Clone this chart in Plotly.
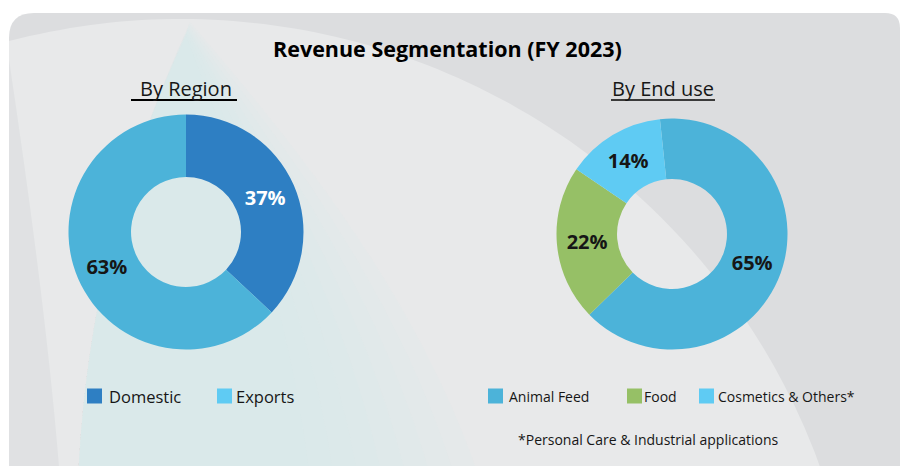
import math
import plotly.graph_objects as go

# ---- data ----
region_labels = ["Domestic", "Exports"]
region_values = [37, 63]

enduse_labels = ["Animal Feed", "Food", "Cosmetics & Others*"]
enduse_values = [65, 22, 14]

title_text = "Revenue Segmentation (FY 2023)"
region_title = "By Region"
enduse_title = "By End use"
footnote = "*Personal Care & Industrial applications"

# ---- styling ----
W, H = 903, 466
FONT = "Open Sans"
INK = "#161616"
region_colors = ["#2e7fc3", "#4cb3d9"]
region_swatches = ["#2e7fc3", "#5fcbf3"]
region_text_colors = ["#ffffff", INK]
enduse_colors = ["#4cb3d9", "#96c066", "#5fcbf3"]
enduse_swatches = ["#4cb3d9", "#96c066", "#5fcbf3"]
enduse_text_colors = [INK, INK, INK]


def px_domain(cx, cy, r):
    return dict(x=[(cx - r) / W, (cx + r) / W],
                y=[1 - (cy + r) / H, 1 - (cy - r) / H])


fig = go.Figure()

fig.add_trace(go.Pie(
    labels=region_labels, values=region_values,
    marker=dict(colors=region_colors, line=dict(width=0)),
    hole=0.468, sort=False, direction="clockwise", rotation=0,
    texttemplate="%{value}%", textposition="inside",
    insidetextorientation="horizontal",
    textfont=dict(family=FONT, size=20, color=region_text_colors, weight=700),
    domain=px_domain(186, 232, 117.5),
    hoverinfo="skip", showlegend=False,
))

fig.add_trace(go.Pie(
    labels=enduse_labels, values=enduse_values,
    marker=dict(colors=enduse_colors, line=dict(width=0)),
    hole=0.476, sort=False, direction="clockwise", rotation=-6,
    texttemplate="%{value}%", textposition="inside",
    insidetextorientation="horizontal",
    textfont=dict(family=FONT, size=20, color=enduse_text_colors, weight=700),
    domain=px_domain(672, 234, 115.5),
    hoverinfo="skip", showlegend=False,
))

shapes = []

# panel with rounded top corners
x0, y0, x1, y1 = 9, 13, 900, 480
rl, rr = 25, 15
panel = (f"M {x0},{y1} L {x0},{y0 + rl} Q {x0},{y0} {x0 + rl},{y0} "
         f"L {x1 - rr},{y0} Q {x1},{y0} {x1},{y0 + rr} L {x1},{y1} Z")
shapes.append(dict(type="path", path=panel, fillcolor="#dcdddf",
                   line=dict(width=0), layer="below"))

# large light sweep across the panel
cx, cy, R = 181, 699, 680
pts = []
xe = cx + math.sqrt(R ** 2 - (cy - y1) ** 2)
n = 80
for i in range(n + 1):
    xx = x0 + (xe - x0) * i / n
    yy = cy - math.sqrt(max(R ** 2 - (xx - cx) ** 2, 0))
    pts.append((xx, max(yy, y0 + 2)))
sweep = "M " + " L ".join(f"{a:.1f},{b:.1f}" for a, b in pts)
sweep += f" L {xe:.1f},{y1} L {x0},{y1} Z"
shapes.append(dict(type="path", path=sweep, fillcolor="#e8e9ea",
                   line=dict(width=0), layer="below"))

# slightly darker strip along the left edge
shapes.append(dict(type="path",
                   path=f"M {x0},60 C 30,200 50,350 60,{y1} L {x0},{y1} Z",
                   fillcolor="rgba(200,202,206,0.25)", line=dict(width=0),
                   layer="below"))

# soft teal glow on the left, fading towards the right (stacked thin layers)
n_layers = 8
for k in range(n_layers):
    t = k / (n_layers - 1)
    rx_end = 480 - 170 * t
    top_x = 190 - 4 * t
    top_y = 22 + 14 * t
    ctrl1 = 300 - 70 * t
    ctrl2 = 420 - 130 * t
    p = (f"M 78,480 C 86,300 128,160 {top_x:.1f},{top_y:.1f} "
         f"C {ctrl1:.1f},150 {ctrl2:.1f},300 {rx_end:.1f},480 Z")
    shapes.append(dict(type="path", path=p, fillcolor="rgba(212,234,236,0.15)",
                       line=dict(width=0), layer="below"))

annotations = []

annotations.append(dict(text=f"<b>{title_text}</b>", x=447, y=48,
                        xref="x", yref="y", showarrow=False,
                        font=dict(family=FONT, size=21.5, color="#000000")))

for txt, cxp, x_a, x_b, col in [(region_title, 186, 131, 237, "#000000"),
                                (enduse_title, 663, 611, 715, "#3a3a3a")]:
    annotations.append(dict(text=txt, x=cxp, y=88, xref="x", yref="y",
                            showarrow=False,
                            font=dict(family=FONT, size=20, color=INK)))
    shapes.append(dict(type="line", x0=x_a, x1=x_b, y0=100, y1=100,
                       xref="x", yref="y", line=dict(color=col, width=2)))


def legend_row(labels, swatches, sw_x, txt_x, y, size):
    for lab, col, sx, tx in zip(labels, swatches, sw_x, txt_x):
        shapes.append(dict(type="rect", x0=sx, x1=sx + 15, y0=y - 7.5, y1=y + 7.5,
                           xref="x", yref="y", fillcolor=col, line=dict(width=0)))
        annotations.append(dict(text=lab, x=tx, y=y, xref="x", yref="y",
                                xanchor="left", showarrow=False,
                                font=dict(family=FONT, size=size, color=INK)))


legend_row(region_labels, region_swatches, [87, 217], [107, 234], 396, 16.5)
legend_row(enduse_labels, enduse_swatches, [488, 627, 699], [507, 642, 716], 396, 14)

annotations.append(dict(text=footnote, x=516, y=439, xref="x", yref="y",
                        xanchor="left", showarrow=False,
                        font=dict(family=FONT, size=14, color=INK)))

fig.update_layout(
    width=W, height=H,
    margin=dict(l=0, r=0, t=0, b=0),
    paper_bgcolor="#ffffff", plot_bgcolor="rgba(0,0,0,0)",
    xaxis=dict(range=[0, W], visible=False, fixedrange=True, domain=[0, 1]),
    yaxis=dict(range=[H, 0], visible=False, fixedrange=True, domain=[0, 1]),
    shapes=shapes, annotations=annotations,
    showlegend=False,
)

fig.write_html("out.html")
